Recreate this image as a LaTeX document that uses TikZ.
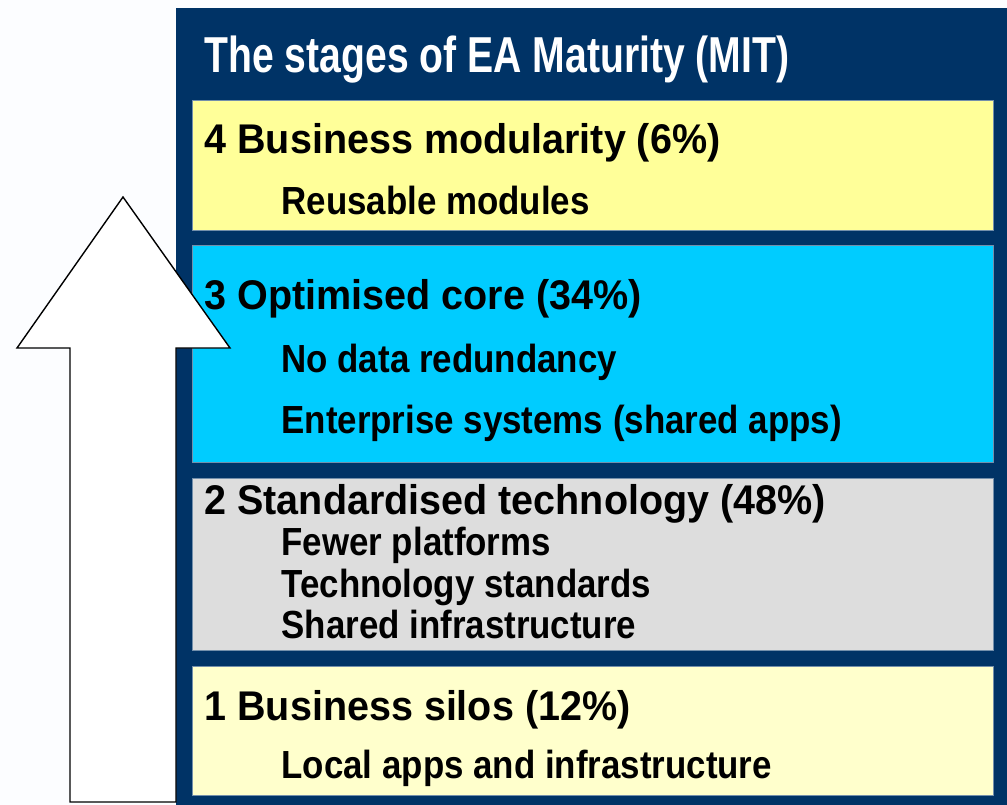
\documentclass[tikz,border=0pt]{standalone}
\usepackage{fontspec}
\newfontfamily\titlefont[FakeStretch=0.775]{Liberation Sans}
\newfontfamily\headfont[FakeStretch=0.952]{Liberation Sans}
\newfontfamily\bodyfont[FakeStretch=0.89]{Liberation Sans}
\definecolor{navy}{HTML}{003366}
\definecolor{ybox}{HTML}{FFFF99}
\definecolor{cbox}{HTML}{00CCFF}
\definecolor{gbox}{HTML}{DDDDDD}
\definecolor{lybox}{HTML}{FFFFCC}
\definecolor{bgc}{HTML}{FCFDFF}
\tikzset{
  stagebox/.style={draw=navy!55, line width=0.8pt, anchor=north west, inner sep=0pt, outer sep=0pt, minimum width=801pt},
  titletext/.style={anchor=base west, inner sep=0pt, outer sep=0pt, text=white, font=\titlefont\bfseries\fontsize{50.5}{50.5}\selectfont},
  headtext/.style={anchor=base west, inner sep=0pt, outer sep=0pt, text=black, font=\headfont\bfseries\fontsize{41.5}{41.5}\selectfont},
  bodytext/.style={anchor=base west, inner sep=0pt, outer sep=0pt, text=black, font=\bodyfont\bfseries\fontsize{39.2}{39.2}\selectfont},
  uparrow/.style={draw=black, fill=white, line width=1.4pt, line join=miter}
}
\begin{document}
\begin{tikzpicture}[x=1pt,y=-1pt]
\useasboundingbox (0,0) rectangle (1007,805);
\fill[bgc] (0,0) rectangle (1007,805);
% navy panel
\fill[navy] (176,8) rectangle (1007,805);
% stage boxes
\node[stagebox, fill=ybox, minimum height=130pt] (b4) at (192,100) {};
\node[stagebox, fill=cbox, minimum height=217pt] (b3) at (192,245) {};
\node[stagebox, fill=gbox, minimum height=172pt] (b2) at (192,478) {};
\node[stagebox, fill=lybox, minimum height=129pt] (b1) at (192,666) {};
% title
\node[titletext] (title) at (204.5,72.7) {The stages of EA Maturity (MIT)};
% stage 4
\node[headtext] (h4) at (204.5,154) {4 Business modularity (6\%)};
\node[bodytext] (t4a) at (281.5,215) {Reusable modules};
% stage 3
\node[headtext] (h3) at (204.5,309.5) {3 Optimised core (34\%)};
\node[bodytext] (t3a) at (281.5,372.5) {No data redundancy};
\node[bodytext] (t3b) at (281.5,433.5) {Enterprise systems (shared apps)};
% stage 2
\node[headtext] (h2) at (204.5,514.5) {2 Standardised technology (48\%)};
\node[bodytext] (t2a) at (281.5,555.5) {Fewer platforms};
\node[bodytext] (t2b) at (281.5,597) {Technology standards};
\node[bodytext] (t2c) at (281.5,638) {Shared infrastructure};
% stage 1
\node[headtext] (h1) at (204.5,720.5) {1 Business silos (12\%)};
\node[bodytext] (t1a) at (281.5,778) {Local apps and infrastructure};
% block arrow
\draw[uparrow] (70,802) -- (70,348) -- (17,348) -- (123,197) -- (230,348) -- (176,348) -- (176,802) -- cycle;
\end{tikzpicture}
\end{document}
